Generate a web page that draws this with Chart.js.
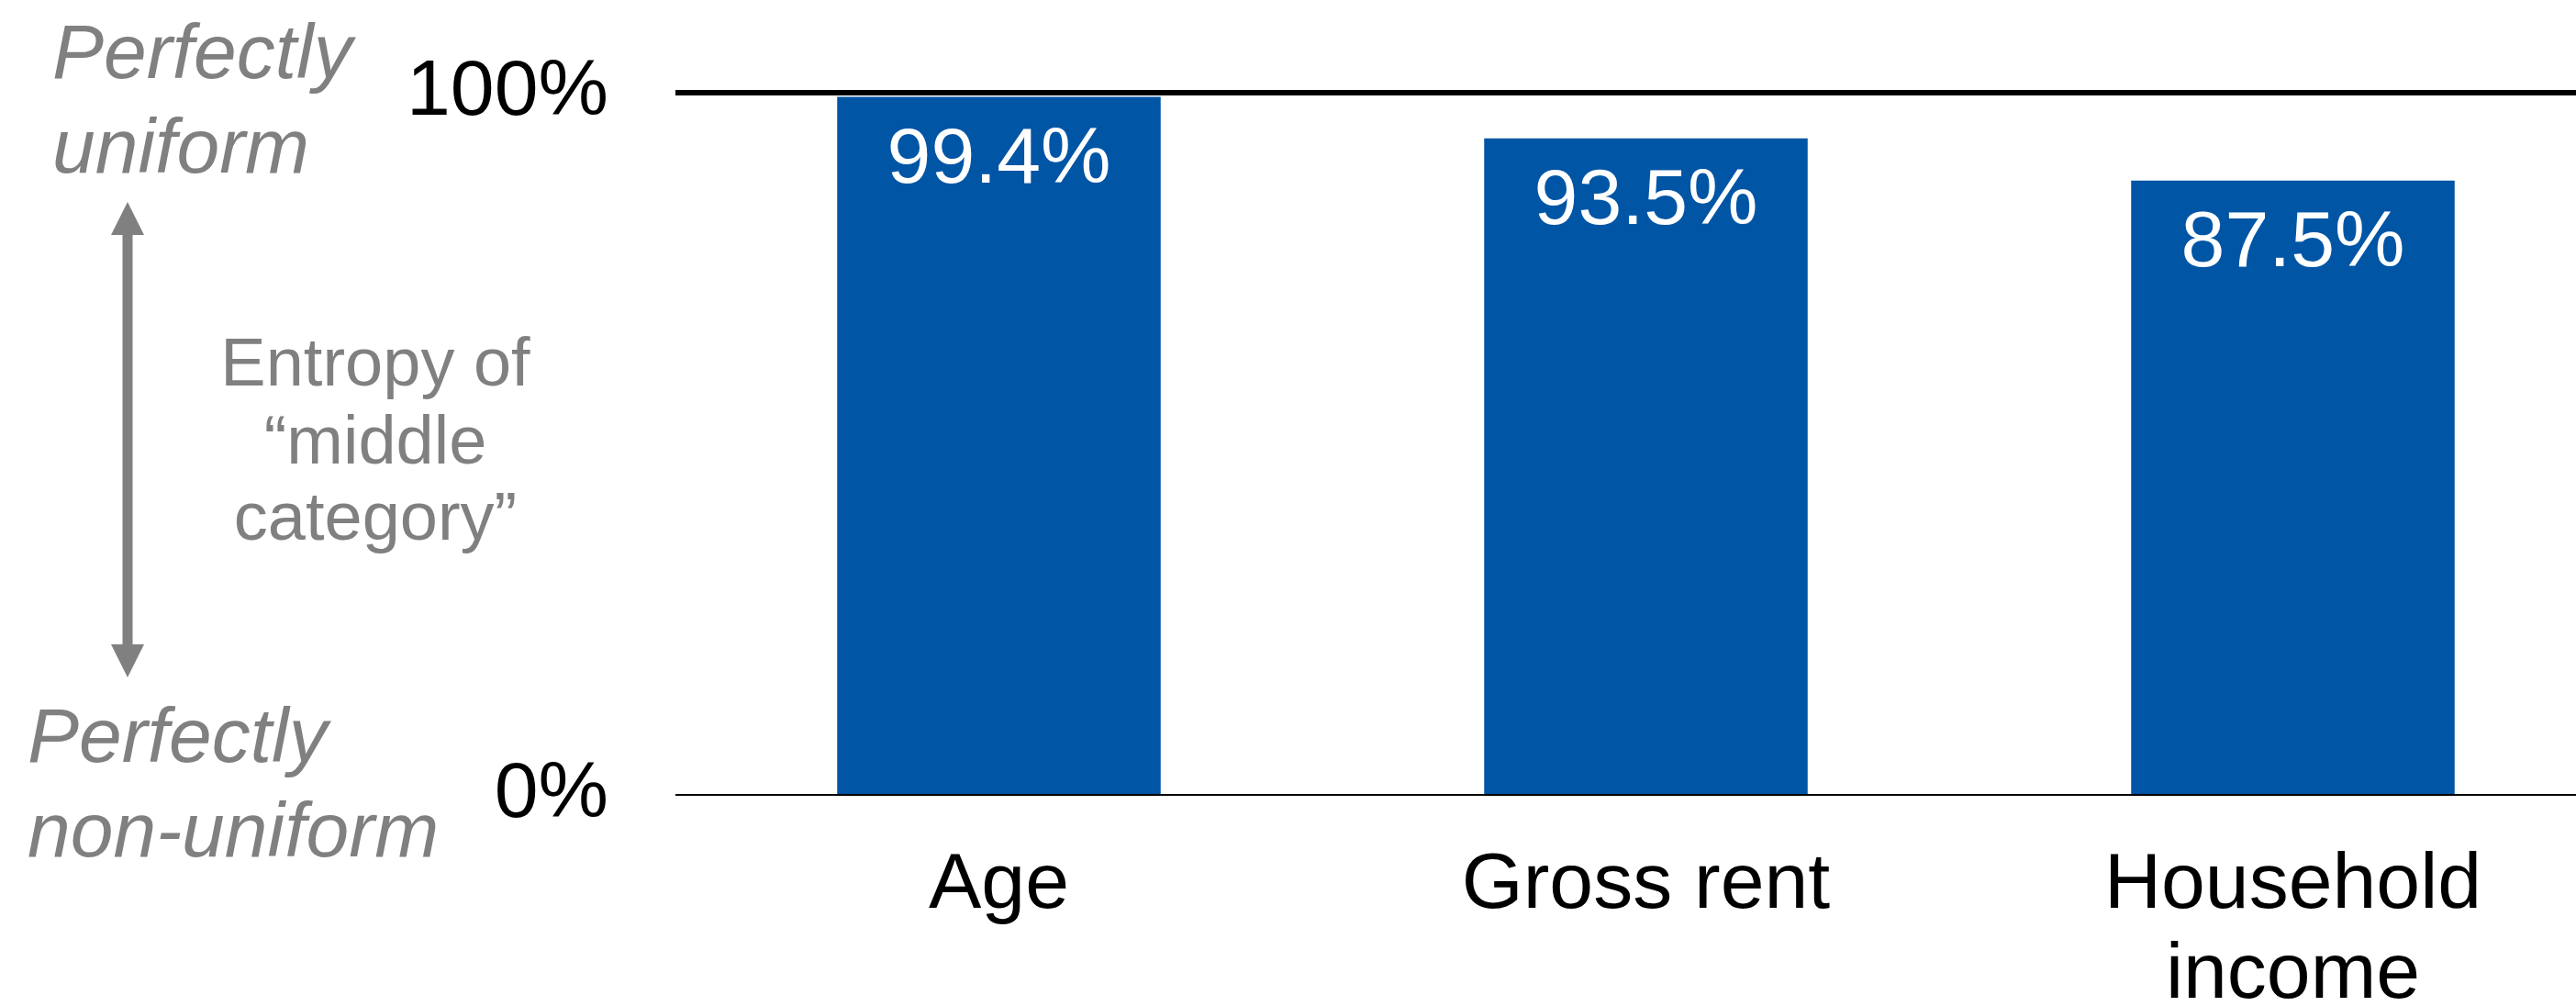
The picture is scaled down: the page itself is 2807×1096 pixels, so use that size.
<!DOCTYPE html>
<html>
<head>
<meta charset="utf-8">
<script src="https://cdn.jsdelivr.net/npm/chart.js@4.4.1/dist/chart.umd.min.js"></script>
<style>
  html, body { margin: 0; padding: 0; background: #fff; overflow: hidden; }
  #wrap { width: 2851px; height: 1096px; }
</style>
</head>
<body>
<div id="wrap"><canvas id="bar-chart" width="2851" height="1096"></canvas></div>
<script>
const categories = ['Age', 'Gross rent', ['Household', 'income']]
const entropy = [99.4, 93.5, 87.5]
const yTicks = [0, 100]

const FONT = '"Liberation Sans", Arial, sans-serif'
const GREY = '#808080'

// ============ labels inside the bars ============
const barLabels = {
    id: 'barLabels',
    afterDatasetsDraw(chart) {
        const ctx = chart.ctx
        const meta = chart.getDatasetMeta(0)
        ctx.save()
        ctx.fillStyle = '#fff'
        ctx.font = '86px ' + FONT
        ctx.textAlign = 'center'
        ctx.textBaseline = 'alphabetic'
        meta.data.forEach((bar, i) => {
            ctx.fillText(entropy[i].toFixed(1) + '%', bar.x, bar.y + 93)
        })
        ctx.restore()
    }
}

// ============ grey notes + arrow on the left ============
const sideNotes = {
    id: 'sideNotes',
    afterDraw(chart) {
        const ctx = chart.ctx
        ctx.save()
        ctx.fillStyle = GREY
        ctx.textBaseline = 'alphabetic'

        ctx.font = 'italic 84px ' + FONT
        ctx.textAlign = 'left'
        ctx.fillText('Perfectly', 57, 85)
        ctx.fillText('uniform', 57, 188)
        ctx.fillText('Perfectly', 30, 830)
        ctx.fillText('non-uniform', 30, 933)

        ctx.font = '74px ' + FONT
        ctx.textAlign = 'center'
        ctx.fillText('Entropy of', 409, 420)
        ctx.fillText('\u201Cmiddle', 409, 505)
        ctx.fillText('category\u201D', 409, 588)

        // double arrow
        const x = 139
        ctx.fillRect(x - 5.5, 254, 11, 450)
        ctx.beginPath()
        ctx.moveTo(x, 220)
        ctx.lineTo(x + 18, 256)
        ctx.lineTo(x - 18, 256)
        ctx.closePath()
        ctx.fill()
        ctx.beginPath()
        ctx.moveTo(x, 738)
        ctx.lineTo(x + 18, 702)
        ctx.lineTo(x - 18, 702)
        ctx.closePath()
        ctx.fill()
        ctx.restore()
    }
}

function noPad(scale) {
    scale.paddingTop = 0
    scale.paddingBottom = 0
    scale.paddingLeft = 0
    scale.paddingRight = 0
}

const chart = new Chart(document.getElementById('bar-chart'), {
    type: 'bar',
    data: {
        labels: categories,
        datasets: [{
            label: 'Entropy',
            data: entropy,
            backgroundColor: '#0155A5',
            borderWidth: 0,
            barPercentage: 0.5,
            categoryPercentage: 1
        }]
    },
    options: {
        responsive: false,
        animation: false,
        devicePixelRatio: 1,
        layout: { padding: { top: 101, left: 0, right: 0, bottom: 0 } },
        plugins: {
            legend: { display: false },
            tooltip: { enabled: false }
        },
        scales: {
            x: {
                grid: { display: false, drawTicks: false },
                border: { display: false },
                ticks: {
                    color: '#000',
                    padding: 50,
                    maxRotation: 0,
                    autoSkip: false,
                    font: { family: FONT, size: 86, lineHeight: 1.14 }
                },
                afterFit(scale) {
                    scale.height = 230
                    noPad(scale)
                }
            },
            y: {
                min: 0,
                max: 100,
                afterBuildTicks(scale) { scale.ticks = yTicks.map(v => ({ value: v })) },
                grid: {
                    color: '#000',
                    drawTicks: false,
                    lineWidth: ctx => ctx.tick && ctx.tick.value === 100 ? 6 : 2
                },
                border: { display: false },
                ticks: {
                    color: '#000',
                    padding: 73,
                    font: { family: FONT, size: 86 },
                    callback: v => v + '%'
                },
                afterFit(scale) {
                    scale.width = 736
                    noPad(scale)
                }
            }
        }
    },
    plugins: [barLabels, sideNotes]
})
</script>
</body>
</html>
